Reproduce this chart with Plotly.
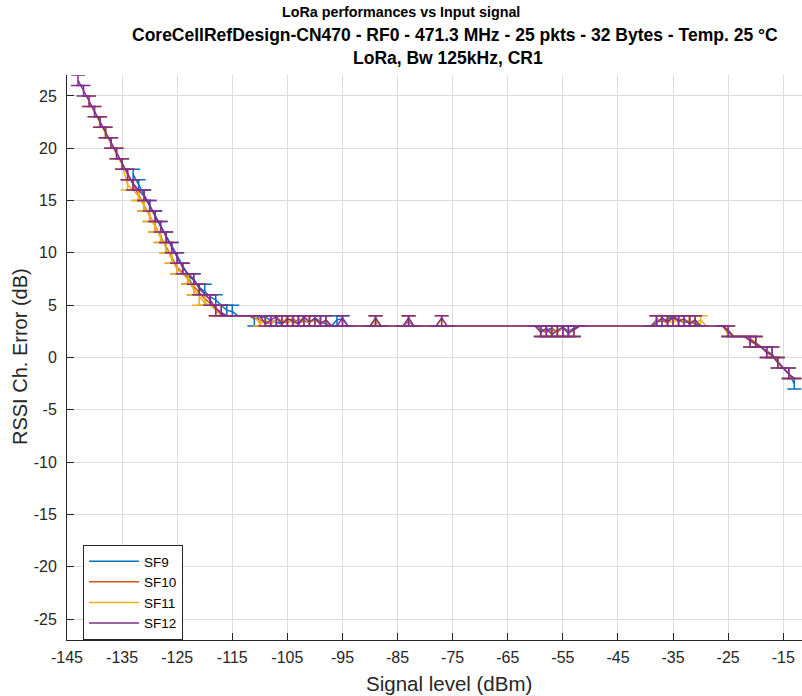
import plotly.graph_objects as go
import numpy as np

# ---------------- data ----------------
# SF12 (purple)
x12 = [-143,-142,-141,-140,-139,-138,-137,-136,-135,-134,-133,-132,-131,-130,-129,-128,-127,-126,-125,-124,-123,-122,-121,-120,-119,-118,-117,-116,-114,-112,-111,-110,
       -109,-108,-107,-106,-105,-104,-103,-102,-101,-100,-99,-98,-97,-96,-95,-94,-90,-89,-88,-84,-83,-82,-78,-77,-76,
       -60,-59,-58,-57,-56,-55,-54,-53,-52,-39,-38,-37,-36,-35,-34,-33,-32,-31,-30,-26,-25,-24,-22,-21,-20,-19,-18,-17,-16,-15,-14,-13]
m12 = [26.5,25.5,24.5,23.5,22.5,21.5,20.5,19.5,18.5,17.5,16.6,16.0,15.4,14.5,13.5,12.5,11.5,10.5,9.5,8.6,8.0,7.5,6.6,6.0,5.5,4.7,4.2,4,4,4,4,4,
       3.2,3.6,3.9,3.2,3.7,3.5,3.2,3.9,3.4,3.7,3.2,3.6,3,3,3.8,3,3,3.8,3,3,3.8,3,3,3.8,3,
       3,2.4,2.8,2.2,2.6,2.9,2.3,2.7,3,3,3.3,3.8,3.4,3.9,3.5,3.7,3.2,3.6,3,3,2.5,2,2,1.6,1.3,1,0.5,0.2,-0.5,-1,-1.6,-2]
lo12 = [26,25,24,23,22,21,20,19,18,17,16,16,15,14,13,12,11,10,9,8,8,7,6,6,5,4,4,4,4,4,4,4,
        3,3,3,3,3,3,3,3,3,3,3,3,3,3,3,3,3,3,3,3,3,3,3,3,3,
        3,2,2,2,2,2,2,2,3,3,3,3,3,3,3,3,3,3,3,3,2,2,2,1,1,1,0,0,-1,-1,-2,-2]
hi12 = [27,26,25,24,23,22,21,20,19,18,17,16,16,15,14,13,12,11,10,9,8,8,7,6,6,5,5,4,4,4,4,4,
        4,4,4,4,4,4,4,4,4,4,4,4,3,3,4,3,3,4,3,3,4,3,3,4,3,
        3,3,3,3,3,3,3,3,3,3,4,4,4,4,4,4,4,4,3,3,3,2,2,2,2,1,1,1,0,-1,-1,-2]

# SF9 (blue)
x9 = [-133,-132,-131,-130,-129,-128,-127,-126,-125,-124,-123,-122,-121,-120,-119,-118,-117,-116,-115,-114,-112,-111,-110,-109,-108,-107,-106,-105,-104,-103,-102,-101,-100,-99,-98,-97,-96,-95,-94,
      -90,-89,-88,-84,-83,-82,-78,-77,-76,-60,-59,-58,-57,-56,-55,-54,-53,-52,-39,-38,-37,-36,-35,-34,-33,-32,-31,-30,-26,-25,-24,-22,-21,-20,-19,-18,-17,-16,-15,-14,-13]
m9 = [17.5,16.5,15.5,14.6,13.6,12.6,11.6,10.7,9.7,8.8,7.8,7.4,6.7,6.3,5.8,5.5,5.0,4.5,4.4,4,4,3.7,3.8,3.9,3.5,3.4,3.2,3.8,3.3,3.6,3.5,3.3,3.8,3.4,3.2,3,3.6,3.7,3,
      3,3.6,3,3,3.5,3,3,3,3,3,2.7,2.6,2.8,2.4,2.9,2.5,2.8,3,3,3.6,3.4,3.7,3.9,3.6,3.3,3.5,3.2,3,3,2.6,2,2,1.7,1.4,1,0.6,0.3,-0.4,-1,-1.5,-2.5]
lo9 = [17,16,15,14,13,12,11,10,9,8,7,7,6,6,5,5,5,4,4,4,4,3,3,3,3,3,3,3,3,3,3,3,3,3,3,3,3,3,3,
       3,3,3,3,3,3,3,3,3,3,2,2,2,2,2,2,2,3,3,3,3,3,3,3,3,3,3,3,3,2,2,2,1,1,1,0,0,-1,-1,-2,-3]
hi9 = [18,17,16,15,14,13,12,11,10,9,8,8,7,7,6,6,5,5,5,4,4,4,4,4,4,4,4,4,4,4,4,4,4,4,4,3,4,4,3,
       3,4,3,3,4,3,3,3,3,3,3,3,3,3,3,3,3,3,3,4,4,4,4,4,4,4,4,3,3,3,2,2,2,2,1,1,1,0,-1,-1,-2]

# SF10 (red)
x10 = [-139,-138,-137,-136,-135,-134,-133,-132,-131,-130,-129,-128,-127,-126,-125,-124,-123,-122,-121,-120,-119,-118,-117,-116,-114,-112,-110,-109,-108,-107,-106,-105,-104,-103,-102,-101,-100,-99,-98,-97,
       -94,-90,-89,-88,-84,-83,-82,-76,-60,-59,-58,-57,-56,-55,-54,-53,-52,-39,-38,-37,-36,-35,-34,-33,-32,-31,-30,-26,-25,-24,-22,-21,-20,-19,-18,-17,-16,-15,-14,-13]
m10 = [22.5,21.5,20.5,19.5,18.5,17.5,16.5,15.6,14.6,13.6,12.6,11.6,10.6,9.6,8.6,8.1,7.6,6.8,6.2,5.6,5.2,4.7,4.3,4,4,4,3.6,3.4,3.2,3.7,3.5,3.3,3.8,3.2,3.6,3.4,3.7,3.3,3.5,3,
       3,3,3.7,3,3,3.6,3,3,3,2.6,2.4,2.7,2.5,2.8,2.4,2.6,3,3,3.5,3.6,3.3,3.8,3.4,3.6,3.3,3.4,3,3,2.6,2,2,1.8,1.4,1,0.6,0.2,-0.4,-1,-1.6,-2]
lo10 = [22,21,20,19,18,17,16,15,14,13,12,11,10,9,8,8,7,6,6,5,5,4,4,4,4,4,3,3,3,3,3,3,3,3,3,3,3,3,3,3,
        3,3,3,3,3,3,3,3,3,2,2,2,2,2,2,2,3,3,3,3,3,3,3,3,3,3,3,3,2,2,2,1,1,1,0,0,-1,-1,-2,-2]
hi10 = [23,22,21,20,19,18,17,16,15,14,13,12,11,10,9,9,8,7,7,6,6,5,5,4,4,4,4,4,4,4,4,4,4,4,4,4,4,4,4,3,
        3,3,4,3,3,4,3,3,3,3,3,3,3,3,3,3,3,3,4,4,4,4,4,4,4,4,3,3,3,2,2,2,2,1,1,1,0,-1,-1,-2]

# SF11 (yellow)
x11 = [-141,-140,-139,-138,-137,-136,-135,-134,-133,-132,-131,-130,-129,-128,-127,-126,-125,-124,-123,-122,-121,-120,-119,-118,-117,-116,-114,-112,-111,-110,-109,-108,-107,-106,-105,-104,-103,-102,-101,-100,-99,-98,-97,
       -94,-90,-89,-88,-84,-83,-82,-78,-77,-76,-60,-59,-58,-57,-56,-55,-54,-53,-52,-39,-38,-37,-36,-35,-34,-33,-32,-31,-30,-29,-26,-25,-24,-22,-21,-20,-19,-18,-17,-16,-15,-14,-13]
m11 = [24.4,23.4,22.4,21.4,20.4,19.4,18.4,16.5,16.0,15.4,14.5,13.5,12.5,11.5,10.5,9.5,8.4,8.0,7.4,6.5,5.8,5.2,5.0,4.5,4,4,4,4,4,3.2,3.5,3.3,3.6,3.4,3.8,3.2,3.5,3.7,3.3,3.6,3.2,3.5,3,
       3,3,3.5,3,3,3.7,3,3,3.7,3,3,2.5,2.7,2.3,2.6,2.8,2.4,2.7,3,3,3.4,3.7,3.5,3.3,3.8,3.4,3.6,3.3,3.6,3,3,2.2,2,2,1.6,1.2,1,0.4,0.2,-0.5,-1,-1.6,-2]
lo11 = [24,23,22,21,20,19,18,16,16,15,14,13,12,11,10,9,8,8,7,6,5,5,5,4,4,4,4,4,4,3,3,3,3,3,3,3,3,3,3,3,3,3,3,
        3,3,3,3,3,3,3,3,3,3,3,2,2,2,2,2,2,2,3,3,3,3,3,3,3,3,3,3,3,3,3,2,2,2,1,1,1,0,0,-1,-1,-2,-2]
hi11 = [25,24,23,22,21,20,19,17,16,16,15,14,13,12,11,10,9,8,8,7,6,6,5,5,4,4,4,4,4,4,4,4,4,4,4,4,4,4,4,4,4,4,3,
        3,3,4,3,3,4,3,3,4,3,3,3,3,3,3,3,3,3,3,3,4,4,4,4,4,4,4,4,4,3,3,3,2,2,2,2,1,1,1,0,-1,-1,-2]

series_names = ["SF9", "SF10", "SF11", "SF12"]
series_colors = ["#0072BD", "#D95319", "#EDB120", "#7E2F8E"]
series_data = [(x9, m9, lo9, hi9), (x10, m10, lo10, hi10), (x11, m11, lo11, hi11), (x12, m12, lo12, hi12)]

xticks = [-145, -135, -125, -115, -105, -95, -85, -75, -65, -55, -45, -35, -25, -15]
xtick_text = ["-145", "-135", "-125", "-115", "-105", "-95", "-85", "-75", "-65", "-55", "-45", "-35", "-25", "-15"]
yticks = [-25, -20, -15, -10, -5, 0, 5, 10, 15, 20, 25]
ytick_text = ["-25", "-20", "-15", "-10", "-5", "0", "5", "10", "15", "20", "25"]

title1 = "LoRa performances vs Input signal"
title2 = "CoreCellRefDesign-CN470 - RF0 - 471.3 MHz - 25 pkts - 32 Bytes - Temp. 25 °C"
title3 = "LoRa, Bw 125kHz, CR1"
xlabel = "Signal level (dBm)"
ylabel = "RSSI Ch. Error (dB)"

# ---------------- figure ----------------
FONT = "Liberation Sans, Arial, sans-serif"
fig = go.Figure()
for name, color, (xs, ms, los, his) in zip(series_names, series_colors, series_data):
    ms_a = np.array(ms, dtype=float)
    fig.add_trace(go.Scatter(
        x=xs, y=ms, mode="lines", name=name,
        line=dict(color=color, width=1.5),
        error_y=dict(type="data", symmetric=False,
                     array=np.array(his) - ms_a, arrayminus=ms_a - np.array(los),
                     color=color, thickness=1.5, width=7),
    ))

W, H = 802, 696
ml, mr, mt, mb = 67, 0, 75, 56
pw, ph = W - ml - mr, H - mt - mb

def px(xp):
    return (xp - ml) / pw

def py(yp):
    return 1 - (yp - mt) / ph

axcol = "#262626"
fig.update_layout(
    width=W, height=H,
    margin=dict(l=ml, r=mr, t=mt, b=mb, pad=0),
    paper_bgcolor="white", plot_bgcolor="white",
    font=dict(family=FONT, color=axcol, size=16),
    showlegend=True,
    legend=dict(x=px(83), y=py(545), xanchor="left", yanchor="top",
                bgcolor="white", bordercolor=axcol, borderwidth=1,
                font=dict(size=13.5, color="black"), itemwidth=50,
                tracegroupgap=0),
    xaxis=dict(range=[-145, -11.6], tickvals=xticks, ticktext=xtick_text, ticks="inside", ticklen=7,
               tickcolor=axcol, showline=True, linecolor=axcol, linewidth=1,
               showgrid=True, gridcolor="#dcdcdc", gridwidth=1, zeroline=False,
               tickfont=dict(size=16, color=axcol), ticklabelstandoff=3),
    yaxis=dict(range=[-27, 27], tickvals=yticks, ticktext=ytick_text, ticks="inside", ticklen=7,
               tickcolor=axcol, showline=True, linecolor=axcol, linewidth=1,
               showgrid=True, gridcolor="#dcdcdc", gridwidth=1, zeroline=False,
               tickfont=dict(size=16, color=axcol), ticklabelstandoff=6),
)

ann = [
    dict(text=title1, x=px(401), y=py(12), size=14.3, bold=True),
    dict(text=title2, x=px(455), y=py(35), size=17.5, bold=True),
    dict(text=title3, x=px(448), y=py(58), size=17.5, bold=True),
    dict(text=xlabel, x=px(449), y=py(683), size=20.5, bold=False),
]
for a in ann:
    fig.add_annotation(text=a["text"], x=a["x"], y=a["y"], xref="paper", yref="paper",
                       xanchor="center", yanchor="middle", showarrow=False,
                       font=dict(family=FONT, size=a["size"], color="black" if a["bold"] else axcol,
                                 weight="bold" if a["bold"] else "normal"))
fig.add_annotation(text=ylabel, x=px(20), y=py(357), xref="paper", yref="paper",
                   xanchor="center", yanchor="middle", showarrow=False, textangle=-90,
                   font=dict(family=FONT, size=20, color=axcol))

fig.write_html("out.html")
